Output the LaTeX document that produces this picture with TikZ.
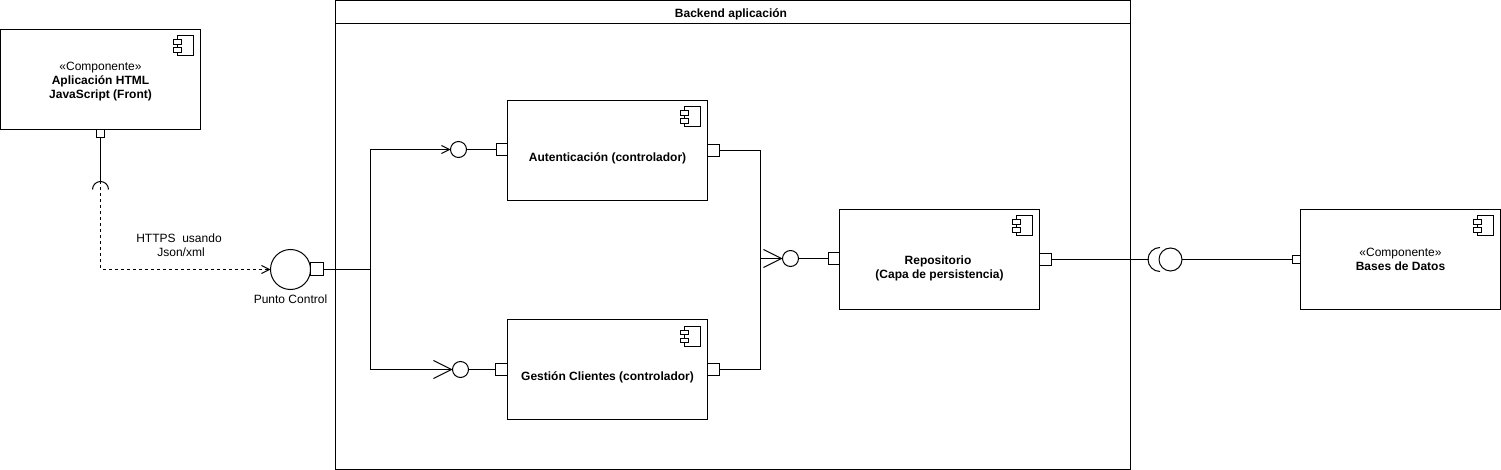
\documentclass[tikz,border=0pt]{standalone}
\usepackage{fontspec}
\setmainfont{Liberation Sans}
\usetikzlibrary{positioning, arrows.meta, calc}

\begin{document}
\begin{tikzpicture}[
    x=1pt,
    y=-1pt,
    line width=1pt,
    % Styles
    every node/.style={
        font=\fontsize{12}{14}\selectfont,
        outer sep=0pt
    },
    compbox/.style={
        rectangle,
        draw,
        fill=white,
        align=center,
        minimum width=200pt,
        minimum height=100pt
    },
    frametitle/.style={
        rectangle,
        draw,
        font=\fontsize{12}{14}\selectfont\bfseries,
        text height=13.5pt,
        text depth=3pt,
        minimum width=795pt,
        minimum height=23pt
    },
    framebody/.style={
        rectangle,
        draw,
        minimum width=795pt,
        minimum height=446pt
    },
    portbox/.style={
        rectangle,
        draw,
        fill=white,
        inner sep=0pt,
        minimum size=12pt
    },
    inport/.style={
        portbox,
        minimum width=11pt
    },
    smallport/.style={
        rectangle,
        draw,
        fill=white,
        inner sep=0pt,
        minimum size=8pt
    },
    ball/.style={
        circle,
        draw,
        inner sep=0pt,
        minimum size=16pt
    },
    note/.style={
        align=center,
        inner sep=0pt
    },
    wire/.style={
        draw
    },
    arrow/.style={
        -{Straight Barb[length=8pt,width=8pt]}
    },
    bigarrow/.style={
        -{Straight Barb[length=18pt,width=18pt]}
    },
    compicon/.pic={
        \draw (-23.5,6.5) rectangle (-7,26.5);
        \draw[fill=white] (-27,10.5) rectangle (-19,15);
        \draw[fill=white] (-27,18.5) rectangle (-19,23);
    }
]
    \useasboundingbox (0,0) rectangle (1501,470);

    % Backend frame
    \node[frametitle] (title) at (733,12) {\hspace*{-4pt}Backend aplicación};
    \node[framebody, below=0pt of title] (backend) {};

    % Components
    \node[compbox] (front) at (100.5,79.5) {\rule{0pt}{12pt}«Componente»\\\textbf{Aplicación HTML}\hspace*{3pt}\\\textbf{JavaScript (Front)}};
    \node[compbox] (auth) at (607.5,150.5) {\rule{0pt}{25pt}\textbf{Autenticación (controlador)}};
    \node[compbox, below=119pt of auth] (gest) {\rule{0pt}{25pt}\textbf{Gestión Clientes (controlador)}};
    \node[compbox] (repo) at (939.5,259.5) {\rule{0pt}{26pt}\textbf{Repositorio}\hspace*{3pt}\\\textbf{(Capa de persistencia)}};
    \node[compbox, right=261pt of repo] (db) {«Componente»\\\textbf{Bases de Datos}};

    \foreach \n in {front,auth,gest,repo,db}
        \pic at (\n.north east) {compicon};

    % Ports
    \node[smallport, below=0pt of front] (frontport) {};
    \node[inport, left=0pt of auth.west, yshift=1pt] (authin) {};
    \node[portbox, right=0pt of auth.east] (authout) {};
    \node[portbox, left=0pt of gest.west] (gestin) {};
    \node[portbox, right=0pt of gest.east] (gestout) {};
    \node[inport, left=0pt of repo.west, yshift=1pt] (repoin) {};
    \node[portbox, right=0pt of repo.east] (repoout) {};
    \node[smallport, left=0pt of db.west] (dbport) {};

    % Interfaces
    \node[ball, minimum size=40pt] (control) at (290.5,269.5) {};
    \node[portbox, minimum size=13pt, right=0pt of control] (controlport) {};
    \node[note, below=5pt of control] (controllabel) {Punto Control};
    \node[note] (https) at (179,245) {HTTPS\ \ usando\\\hspace*{4pt}Json/xml};
    \node[ball, left=30pt of authin] (authball) {};
    \node[ball, left=27pt of gestin] (gestball) {};
    \node[ball, left=30pt of repoin] (repoball) {};
    \node[ball, minimum size=23pt] (dbball) at (1170.5,259.5) {};

    % Paths
    \coordinate (split) at (370.5,269.5);
    \coordinate (merge) at (760.5,258.5);
    \coordinate (frontsocket) at (100.5,181.5);
    \coordinate (dbsocket) at (1148.5,259.5);

    \draw[wire] (frontport) -- (frontsocket);
    \draw (92.5,189.5) arc (180:360:8);
    \draw[wire, arrow, dash pattern=on 3pt off 3pt] (frontsocket) |- (control);
    \draw[wire] (controlport) -- (split);
    \draw[wire, arrow] (split) |- (authball);
    \draw[wire, bigarrow] (split) |- (gestball);
    \draw[wire] (authball) -- (authin);
    \draw[wire] (gestball) -- (gestin);
    \draw[wire] (authout) -| (merge);
    \draw[wire] (gestout) -| (merge);
    \draw[wire, bigarrow] (merge) -- (repoball);
    \draw[wire] (repoball) -- (repoin);
    \draw[wire] (repoout) -- (dbsocket);
    \draw (1160,247.5) arc (270:90:12);
    \draw[wire] (dbball) -- (dbport);
\end{tikzpicture}
\end{document}
